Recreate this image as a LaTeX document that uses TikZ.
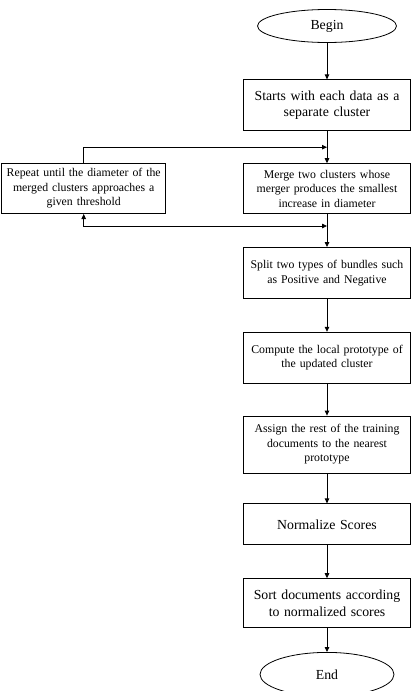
\documentclass[tikz,border=0pt]{standalone}
\usepackage{fontspec}
\setmainfont{Liberation Serif}
\usetikzlibrary{positioning, arrows.meta, calc, shapes.geometric}

\begin{document}
\begin{tikzpicture}[font=\fontsize{11.8}{14.5}\selectfont,>={Triangle[length=5pt,width=4.5pt]},line width=0.8pt,
  box/.style={draw,minimum width=167pt,text width=158pt,inner sep=4.5pt,align=center},
  term/.style={draw,ellipse,inner sep=0pt,font=\fontsize{13.8}{16}\selectfont},
  big/.style={font=\fontsize{13.8}{16.5}\selectfont}]
  \useasboundingbox (0,0) rectangle (417pt,-691pt);
  \node[term,minimum width=139pt,minimum height=33pt] (begin) at (327pt,-26pt) {Begin};
  \node[box,big,below=36.5pt of begin,minimum height=51pt] (starts) {Starts with each data as a\\ separate cluster};
  \node[box,below=32pt of starts,minimum height=50pt] (merge) {Merge two clusters whose\\ merger produces the smallest\\ increase in diameter};
  \node[box,left=77pt of merge,minimum width=164pt,text width=156pt,inner sep=4pt,minimum height=50pt] (repeat) {Repeat until the diameter of the\\ merged clusters approaches a\\ given threshold};
  \node[box,below=33pt of merge,minimum height=51pt] (split) {Split two types of bundles such\\ as Positive and Negative};
  \node[box,below=33pt of split,minimum height=51pt] (compute) {Compute the local prototype of\\ the updated cluster};
  \node[box,below=32pt of compute,minimum height=57pt] (assign) {Assign the rest of the training\\ documents to the nearest\\ prototype};
  \node[box,big,below=30pt of assign,minimum height=41pt] (norm) {Normalize Scores};
  \node[box,big,below=33pt of norm,minimum height=49pt] (sort) {Sort documents according\\ to normalized scores};
  \node[term,below=24pt of sort,minimum width=134pt,minimum height=44pt] (end) {End};
  % loop round the merge step
  \coordinate (looptop) at ($(starts.south)!0.5!(merge.north)$);
  \coordinate (loopbot) at ($(merge.south)+(0,-12pt)$);
  \draw[->] (begin) -- (starts);
  \draw[->] (starts) -- (merge);
  \draw[->] (repeat.north) |- (looptop);
  \draw[<->] (repeat.south) |- (loopbot);
  \draw[->] (merge) -- (split);
  \draw[->] (split) -- (compute);
  \draw[->] (compute) -- (assign);
  \draw[->] (assign) -- (norm);
  \draw[->] (norm) -- (sort);
  \draw[->] (sort) -- (end);
\end{tikzpicture}
\end{document}
